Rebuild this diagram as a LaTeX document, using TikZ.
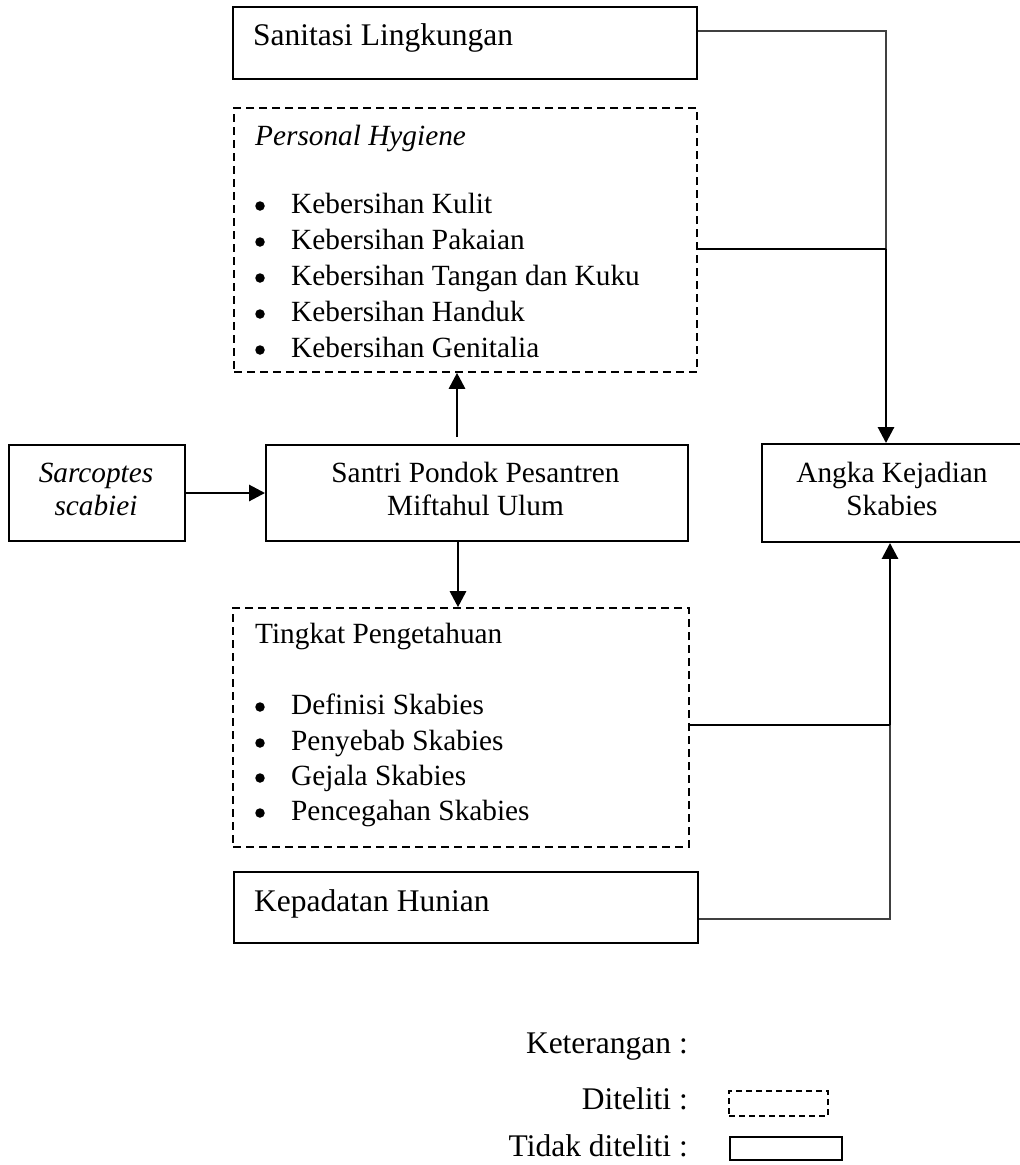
\documentclass[tikz,border=0pt]{standalone}
\usepackage{fontspec}
\setmainfont{Liberation Serif}
\usetikzlibrary{arrows.meta}
\begin{document}
\begin{tikzpicture}[x=1pt,y=-1pt,
  every node/.style={inner sep=0pt},
  big/.style={font=\fontsize{31.5pt}{34pt}\selectfont},
  small/.style={font=\fontsize{29.3pt}{33pt}\selectfont},
  smallit/.style={font=\fontsize{29.3pt}{33pt}\selectfont\itshape},
  solidbox/.style={draw, line width=1.9pt, rectangle},
  dashbox/.style={draw, line width=1.6pt, rectangle, dash pattern=on 8pt off 5pt},
  txt/.style={anchor=base west},
  ctxt/.style={anchor=base},
  dot/.style={circle, fill=black, minimum size=9.5pt},
  thickline/.style={line width=2.8pt},
  thinline/.style={line width=1.1pt, draw=black!75},
  arr/.style={line width=2.8pt, -{Triangle[length=16pt,width=16pt]}}]
\useasboundingbox (0,0) rectangle (1020,1165);
\fill[white] (0,0) rectangle (1020,1165);

% boxes
\node[solidbox, minimum width=464pt, minimum height=72pt] (san) at (465,43) {};
\node[dashbox, minimum width=463pt, minimum height=264pt] (ph) at (465.5,240) {};
\node[solidbox, minimum width=422pt, minimum height=96pt] (st) at (477,493) {};
\node[solidbox, minimum width=176pt, minimum height=96pt] (sar) at (97,493) {};
\node[solidbox, minimum width=260pt, minimum height=98pt] (ak) at (892,493) {};
\node[dashbox, minimum width=456pt, minimum height=239pt] (tp) at (461,727.5) {};
\node[solidbox, minimum width=464pt, minimum height=71pt] (kep) at (466,907.5) {};

% texts
\node[txt, big] (tsan) at (253,45) {Sanitasi Lingkungan};
\node[txt, smallit] (tph) at (255,145) {Personal Hygiene};
\foreach \y/\t [count=\i] in {213/Kebersihan Kulit, 249/Kebersihan Pakaian, 285/Kebersihan Tangan dan Kuku, 321/Kebersihan Handuk, 357/Kebersihan Genitalia}{
  \node[dot] (phb\i) at (260,\y-7) {};
  \node[txt, small] (pht\i) at (291,\y) {\t};
}
\node[ctxt, small] (tst1) at (475.5,482) {Santri Pondok Pesantren};
\node[ctxt, small] (tst2) at (475.5,515) {Miftahul Ulum};
\node[ctxt, smallit] (tsar1) at (96,482) {Sarcoptes};
\node[ctxt, smallit] (tsar2) at (96,515) {scabiei};
\node[ctxt, small] (tak1) at (892,482) {Angka Kejadian};
\node[ctxt, small] (tak2) at (892,515) {Skabies};
\node[txt, small] (ttp) at (255,643) {Tingkat Pengetahuan};
\foreach \y/\t [count=\i] in {714/Definisi Skabies, 750/Penyebab Skabies, 785/Gejala Skabies, 820/Pencegahan Skabies}{
  \node[dot] (tpb\i) at (260,\y-7) {};
  \node[txt, small] (tpt\i) at (291,\y) {\t};
}
\node[txt, big] (tkep) at (254,911) {Kepadatan Hunian};

% legend
\node[anchor=base east, big] (lk) at (688,1053) {Keterangan :};
\node[anchor=base east, big] (ld) at (688,1109) {Diteliti :};
\node[anchor=base east, big] (lt) at (688,1156) {Tidak diteliti :};
\node[dashbox, minimum width=99pt, minimum height=25pt, line width=1.4pt, dash pattern=on 6pt off 4pt] (lgd) at (778.5,1103.5) {};
\node[solidbox, minimum width=112pt, minimum height=23pt] (lgs) at (786,1148.5) {};

% connectors
\coordinate (ux) at (457,0);
\coordinate (dx) at (458,0);
\coordinate (j1) at (886,249);
\coordinate (j2) at (890,725);
\coordinate (s1) at (0,31);
\coordinate (k1) at (0,919);

\draw[arr] (sar) -- (st);
\draw[arr, shorten <=7pt] (st.north -| ux) -- (ph.south -| ux);
\draw[arr] (st.south -| dx) -- (tp.north -| dx);

\draw[thinline] (san.east |- s1) -| (j1);
\draw[thickline] (ph.east |- j1) -- (j1);
\draw[arr] (j1) -- (j1 |- ak.north);

\draw[thinline] (kep.east |- k1) -| (j2);
\draw[thickline] (tp.east |- j2) -- (j2);
\draw[arr] (j2) -- (j2 |- ak.south);
\end{tikzpicture}
\end{document}
